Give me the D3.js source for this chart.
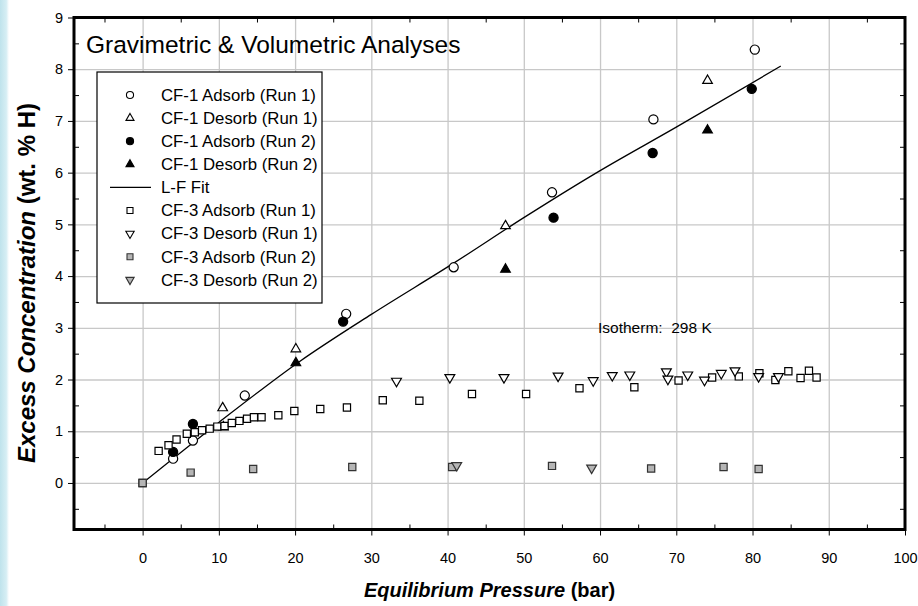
<!DOCTYPE html>
<html>
<head>
<meta charset="utf-8">
<script src="https://cdn.jsdelivr.net/npm/d3@7"></script>
<style>
  body { margin: 0; background: #fff; }
  svg { font-family: "Liberation Sans", Arial, sans-serif; }
</style>
</head>
<body>
<div class="chart"></div>
<script>
// values: [pressure (bar), excess conc. (wt.% H)]
const cf1AdsRun1 = [[4.0,0.47],[6.6,0.82],[13.4,1.69],[26.7,3.27],[40.8,4.17],[53.7,5.62],[67.0,7.03],[80.3,8.38]]
const cf1DesRun1 = [[10.5,1.45],[20.1,2.59],[47.6,4.97],[74.1,7.78]]
const cf1AdsRun2 = [[4.0,0.6],[6.6,1.14],[26.3,3.12],[53.9,5.13],[66.9,6.38],[79.9,7.62]]
const cf1DesRun2 = [[10.6,1.08],[20.1,2.32],[47.6,4.13],[74.1,6.82]]
const lfFit = [[0,0],[10,1.17],[20.6,2.35],[30,3.26],[40.8,4.25],[50,5.13],[59.9,6.03],[70,6.88],[83.7,8.06]]
const cf3AdsRun1 = [[0,0],[2.1,0.62],[3.4,0.73],[4.45,0.84],[5.8,0.95],[6.85,0.98],[7.8,1.02],[8.8,1.05],[9.8,1.09],[10.75,1.1],[11.7,1.16],[12.7,1.2],[13.7,1.24],[14.6,1.27],[15.6,1.27],[17.8,1.31],[19.9,1.39],[23.3,1.43],[26.8,1.46],[31.5,1.6],[36.3,1.59],[43.2,1.72],[50.3,1.72],[57.3,1.83],[64.5,1.85],[70.3,1.98],[74.7,2.04],[78.2,2.06],[80.9,2.12],[83.0,1.99],[84.7,2.16],[86.3,2.03],[87.4,2.17],[88.4,2.04]]
const cf3DesRun1 = [[33.3,1.97],[40.3,2.04],[47.4,2.04],[54.5,2.07],[59.1,1.98],[61.6,2.08],[63.9,2.09],[68.7,2.15],[68.9,2.01],[71.5,2.09],[73.7,1.99],[75.9,2.12],[77.7,2.17],[80.8,2.06],[83.4,2.06]]
const cf3AdsRun2 = [[0,0],[6.3,0.2],[14.5,0.27],[27.5,0.31],[40.6,0.31],[53.7,0.33],[66.7,0.28],[76.2,0.31],[80.8,0.27]]
const cf3DesRun2 = [[41.2,0.34],[58.9,0.29]]

const xTicks = [0,10,20,30,40,50,60,70,80,90,100]
const yTicks = [0,1,2,3,4,5,6,7,8,9]
const xMinor = [-5,5,15,25,35,45,55,65,75,85,95]
const yMinor = [-0.5,0.5,1.5,2.5,3.5,4.5,5.5,6.5,7.5,8.5]
const legendLabels = ["CF-1 Adsorb (Run 1)","CF-1 Desorb (Run 1)","CF-1 Adsorb (Run 2)","CF-1 Desorb (Run 2)","L-F Fit","CF-3 Adsorb (Run 1)","CF-3 Desorb (Run 1)","CF-3 Adsorb (Run 2)","CF-3 Desorb (Run 2)"]

const w = 918
const h = 606
const pLeft = 74, pRight = 905, pTop = 17.5, pBottom = 529.5

const svg = d3.select(".chart")
  .append("svg")
  .attr("width", w)
  .attr("height", h)

// light blue strip at the left edge
const grad = svg.append("defs").append("linearGradient").attr("id", "strip")
grad.append("stop").attr("offset", "0%").attr("stop-color", "#bfe3ec")
grad.append("stop").attr("offset", "70%").attr("stop-color", "#d6eef4")
grad.append("stop").attr("offset", "100%").attr("stop-color", "#ffffff")
svg.append("rect").attr("x", 0).attr("y", 0).attr("width", 9).attr("height", h).attr("fill", "url(#strip)")

const xScale = d3.scaleLinear().domain([-9, 100]).range([pLeft, pRight])
const yScale = d3.scaleLinear().domain([-0.9, 9]).range([pBottom, pTop])

// grid
svg.append("g")
  .attr("transform", "translate(0," + pBottom + ")")
  .call(d3.axisBottom(xScale).tickValues(xTicks.slice(0, -1)).tickSize(-(pBottom - pTop)).tickFormat(""))
  .call(g => g.select(".domain").remove())
  .call(g => g.selectAll("line").attr("stroke", "#c8c8c8").attr("stroke-width", 1.3))
svg.append("g")
  .attr("transform", "translate(" + pLeft + ",0)")
  .call(d3.axisLeft(yScale).tickValues(yTicks.slice(0, -1)).tickSize(-(pRight - pLeft)).tickFormat(""))
  .call(g => g.select(".domain").remove())
  .call(g => g.selectAll("line").attr("stroke", "#c8c8c8").attr("stroke-width", 1.3))

// fit line
const line = d3.line().curve(d3.curveMonotoneX).x(d => xScale(d[0])).y(d => yScale(d[1]))
svg.append("path")
  .datum(lfFit)
  .attr("d", line)
  .attr("fill", "none")
  .attr("stroke", "#000")
  .attr("stroke-width", 1.3)

// markers
const drawSeries = (data, type, size, fill, stroke, rot) => {
  svg.append("g").selectAll("path")
    .data(data)
    .enter()
    .append("path")
      .attr("d", d3.symbol().type(type).size(size))
      .attr("transform", d => "translate(" + xScale(d[0]) + "," + yScale(d[1]) + ") rotate(" + rot + ")")
      .attr("fill", fill)
      .attr("stroke", stroke)
      .attr("stroke-width", 1.2)
}

const gray = "#b5b5b5"
const styles = [
  [d3.symbolCircle, 66, "#fff", "#000", 0],
  [d3.symbolTriangle, 40, "#fff", "#000", 0],
  [d3.symbolCircle, 66, "#000", "#000", 0],
  [d3.symbolTriangle, 40, "#000", "#000", 0],
  null,
  [d3.symbolSquare, 52, "#fff", "#000", 0],
  [d3.symbolTriangle, 42, "#fff", "#000", 180],
  [d3.symbolSquare, 52, gray, "#333", 0],
  [d3.symbolTriangle, 42, gray, "#333", 180]
]
const seriesList = [cf1AdsRun1, cf1DesRun1, cf1AdsRun2, cf1DesRun2, null, cf3AdsRun1, cf3DesRun1, cf3AdsRun2, cf3DesRun2]
seriesList.forEach((s, i) => {
  if (s) drawSeries(s, ...styles[i])
})

// axes: major ticks outward, minor ticks inward
const tickFont = g => g.selectAll("text").style("font-size", "14.5px").attr("fill", "#000")
svg.append("g")
  .attr("transform", "translate(0," + pBottom + ")")
  .call(d3.axisBottom(xScale).tickValues(xTicks).tickSizeInner(6).tickSizeOuter(0).tickPadding(17))
  .call(g => g.select(".domain").remove())
  .call(tickFont)
svg.append("g")
  .attr("transform", "translate(" + pLeft + ",0)")
  .call(d3.axisLeft(yScale).tickValues(yTicks).tickSizeInner(6).tickSizeOuter(0).tickPadding(5))
  .call(g => g.select(".domain").remove())
  .call(tickFont)
svg.append("g").attr("transform", "translate(0," + pBottom + ")")
  .call(d3.axisBottom(xScale).tickValues(xMinor).tickSize(-5).tickFormat(""))
  .call(g => g.select(".domain").remove())
svg.append("g").attr("transform", "translate(0," + pTop + ")")
  .call(d3.axisTop(xScale).tickValues(xMinor).tickSize(-5).tickFormat(""))
  .call(g => g.select(".domain").remove())
svg.append("g").attr("transform", "translate(" + pLeft + ",0)")
  .call(d3.axisLeft(yScale).tickValues(yMinor).tickSize(-5).tickFormat(""))
  .call(g => g.select(".domain").remove())
svg.append("g").attr("transform", "translate(" + pRight + ",0)")
  .call(d3.axisRight(yScale).tickValues(yMinor).tickSize(-5).tickFormat(""))
  .call(g => g.select(".domain").remove())

// frame
svg.append("rect")
  .attr("x", pLeft).attr("y", pTop)
  .attr("width", pRight - pLeft).attr("height", pBottom - pTop)
  .attr("fill", "none").attr("stroke", "#000").attr("stroke-width", 3)

// title
svg.append("text")
  .attr("x", 86).attr("y", 53)
  .style("font-size", "24.5px")
  .text("Gravimetric & Volumetric Analyses")

// legend
svg.append("rect")
  .attr("x", 97).attr("y", 72).attr("width", 225).attr("height", 231)
  .attr("fill", "#fff").attr("stroke", "#000").attr("stroke-width", 1.2)
const legendStyles = [
  [d3.symbolCircle, 40, "#fff", "#000", 0],
  [d3.symbolTriangle, 28, "#fff", "#000", 0],
  [d3.symbolCircle, 40, "#000", "#000", 0],
  [d3.symbolTriangle, 28, "#000", "#000", 0],
  null,
  [d3.symbolSquare, 36, "#fff", "#000", 0],
  [d3.symbolTriangle, 30, "#fff", "#000", 180],
  [d3.symbolSquare, 36, gray, "#333", 0],
  [d3.symbolTriangle, 30, gray, "#333", 180]
]
const legend = svg.append("g")
  .selectAll("g")
  .data(legendLabels)
  .enter()
  .append("g")
  .attr("transform", (d, i) => "translate(0," + (95 + i * 23.1) + ")")
legend.each(function(d, i) {
  const g = d3.select(this)
  const st = legendStyles[i]
  if (st) {
    g.append("path")
      .attr("d", d3.symbol().type(st[0]).size(st[1]))
      .attr("transform", "translate(130,0) rotate(" + st[4] + ")")
      .attr("fill", st[2]).attr("stroke", st[3]).attr("stroke-width", 1.1)
  } else {
    g.append("line").attr("x1", 110).attr("x2", 151).attr("stroke", "#000").attr("stroke-width", 1.3)
  }
  g.append("text")
    .attr("x", 161).attr("dy", "0.35em")
    .style("font-size", "16.8px")
    .text(d)
})

svg.append("text")
  .attr("x", 598).attr("y", 333)
  .style("font-size", "15.5px")
  .attr("xml:space", "preserve")
  .text("Isotherm:  298 K")

// axis titles
const xTitle = svg.append("text")
  .attr("x", (pLeft + pRight) / 2).attr("y", 597)
  .attr("text-anchor", "middle")
  .style("font-size", "20px").style("font-weight", "bold")
xTitle.append("tspan").style("font-style", "italic").text("Equilibrium Pressure")
xTitle.append("tspan").text(" (bar)")

const yTitle = svg.append("text")
  .attr("transform", "translate(35," + 283 + ") rotate(-90)")
  .attr("text-anchor", "middle")
  .style("font-size", "24px").style("font-weight", "bold")
yTitle.append("tspan").style("font-style", "italic").text("Excess Concentration")
yTitle.append("tspan").text(" (wt. % H)")
</script>
</body>
</html>
